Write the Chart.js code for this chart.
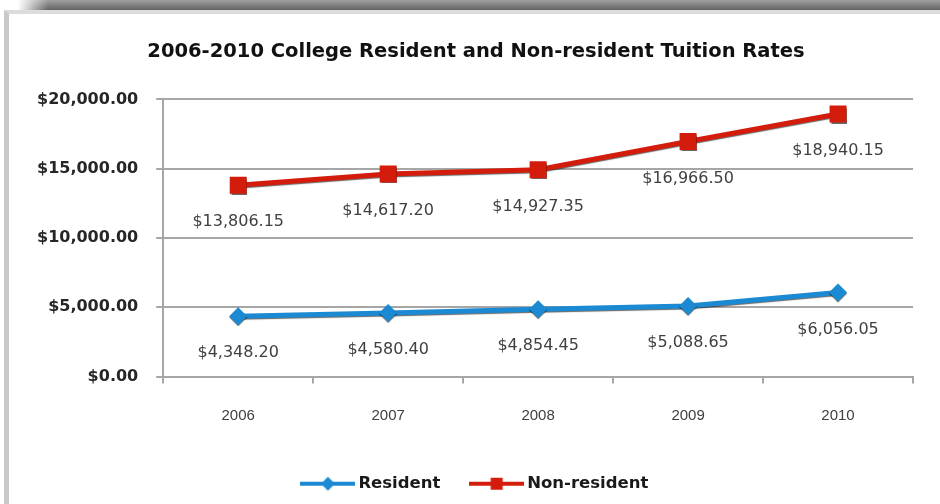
<!DOCTYPE html>
<html>
<head>
<meta charset="utf-8">
<script src="https://cdn.jsdelivr.net/npm/chart.js@4"></script>
<style>
    html, body { margin: 0; padding: 0; background: #fff; }
    #wrap { position: relative; width: 940px; height: 504px; overflow: hidden; background: #fff; }
    #topbar { position: absolute; left: 18px; top: 0; right: 0; height: 11px;
        background: linear-gradient(to bottom, #a0a0a0, #5c5c5c);
        -webkit-mask-image: linear-gradient(to right, transparent 0, #000 30px); }
    #frame { position: absolute; left: 4px; top: 10px; right: 0; bottom: 0;
        border-left: 5px solid #c9c9c9; border-top: 4px solid #dcdcdc; }
    #chart-box { position: absolute; left: 0; top: 0; width: 940px; height: 504px; }
</style>
</head>
<body>
<div id="wrap">
    <div id="topbar"></div>
    <div id="frame"></div>
    <div id="chart-box"><canvas id="tuition-graph" width="940" height="504"></canvas></div>
</div>
<script>
(function() {
    const years = ['2006', '2007', '2008', '2009', '2010'];
    const residentRates = [4348.20, 4580.40, 4854.45, 5088.65, 6056.05];
    const nonResidentRates = [13806.15, 14617.20, 14927.35, 16966.50, 18940.15];
    const yTicks = [0, 5000, 10000, 15000, 20000];

    const blue = '#1c8ad2';
    const red = '#d41c0c';

    function money(v) {
        return '$' + v.toLocaleString('en-US', { minimumFractionDigits: 2, maximumFractionDigits: 2 });
    }

    // small legend symbol: line with marker in the middle
    function legendIcon(color, shape) {
        const c = document.createElement('canvas');
        c.width = 55;
        c.height = 18;
        const g = c.getContext('2d');
        g.strokeStyle = color;
        g.lineWidth = 4;
        g.beginPath();
        g.moveTo(0, 9);
        g.lineTo(55, 9);
        g.stroke();
        g.fillStyle = color;
        if (shape === 'diamond') {
            g.beginPath();
            g.moveTo(27.5, 2);
            g.lineTo(34.5, 9);
            g.lineTo(27.5, 16);
            g.lineTo(20.5, 9);
            g.closePath();
            g.fill();
        } else {
            g.fillRect(21.5, 3, 12, 12);
        }
        return c;
    }

    const valueLabels = {
        id: 'valueLabels',
        afterDatasetsDraw(chart) {
            const ctx = chart.ctx;
            ctx.save();
            ctx.font = '16px "DejaVu Sans"';
            ctx.fillStyle = '#404040';
            ctx.textAlign = 'center';
            ctx.textBaseline = 'middle';
            chart.data.datasets.forEach((ds, i) => {
                chart.getDatasetMeta(i).data.forEach((pt, j) => {
                    ctx.fillText(money(ds.data[j]), pt.x, pt.y + 37);
                });
            });
            ctx.restore();
        }
    };

    const lineShadow = {
        id: 'lineShadow',
        beforeDatasetDraw(chart) {
            chart.ctx.save();
            chart.ctx.shadowColor = 'rgba(0,0,0,0.6)';
            chart.ctx.shadowOffsetY = 1;
            chart.ctx.shadowBlur = 1;
        },
        afterDatasetDraw(chart) {
            chart.ctx.restore();
        }
    };

    // title and legend sit a bit right of the plot centre in the original
    const blockShift = {
        id: 'blockShift',
        afterLayout(chart) {
            chart.legend.left += 11;
            chart.legend.right += 11;
            chart.legend.top -= 6;
            chart.legend.bottom -= 6;
            chart.titleBlock.left += 10;
            chart.titleBlock.right += 10;
        }
    };

    const ctx = document.getElementById('tuition-graph').getContext('2d');
    const myChart = new Chart(ctx, {
        type: 'line',
        data: {
            labels: years,
            datasets: [{
                label: 'Resident',
                data: residentRates,
                borderColor: blue,
                backgroundColor: blue,
                borderWidth: 5,
                pointStyle: 'rectRot',
                pointRadius: 9,
                pointBorderWidth: 0,
                tension: 0
            }, {
                label: 'Non-resident',
                data: nonResidentRates,
                borderColor: red,
                backgroundColor: red,
                borderWidth: 5,
                pointStyle: 'rect',
                pointRadius: 12,
                pointBorderWidth: 0,
                tension: 0
            }]
        },
        options: {
            responsive: false,
            animation: false,
            layout: {
                padding: { left: 19, right: 27, top: 0, bottom: -4 }
            },
            scales: {
                x: {
                    offset: true,
                    grid: {
                        offset: true,
                        drawOnChartArea: false,
                        tickLength: 7,
                        color: '#a6a6a6',
                        lineWidth: 2
                    },
                    border: { color: '#a6a6a6', width: 2 },
                    ticks: {
                        padding: 23,
                        color: '#404040',
                        font: { family: '"Liberation Sans"', size: 15 }
                    }
                },
                y: {
                    min: 0,
                    max: 20000,
                    afterBuildTicks(scale) {
                        scale.ticks = yTicks.map(v => ({ value: v }));
                    },
                    grid: {
                        tickLength: 7,
                        color: '#a6a6a6',
                        lineWidth: 2
                    },
                    border: { color: '#a6a6a6', width: 2 },
                    ticks: {
                        padding: 18,
                        color: '#262626',
                        font: { family: '"DejaVu Sans"', size: 16, weight: 'bold' },
                        callback: v => money(v)
                    }
                }
            },
            plugins: {
                title: {
                    display: true,
                    text: '2006-2010 College Resident and Non-resident Tuition Rates',
                    color: '#111',
                    font: { family: '"DejaVu Sans"', size: 19.5, weight: 'bold' },
                    padding: { top: 40, bottom: 36 }
                },
                legend: {
                    position: 'bottom',
                    labels: {
                        usePointStyle: true,
                        pointStyleWidth: 44.5,
                        boxHeight: 18,
                        padding: 34,
                        color: '#1a1a1a',
                        font: { family: '"DejaVu Sans"', size: 16.5, weight: 'bold' },
                        generateLabels(chart) {
                            return chart.data.datasets.map((ds, i) => ({
                                text: ds.label,
                                pointStyle: legendIcon(ds.borderColor, i === 0 ? 'diamond' : 'square'),
                                fillStyle: ds.borderColor,
                                strokeStyle: ds.borderColor,
                                lineWidth: 0,
                                fontColor: '#1a1a1a',
                                datasetIndex: i
                            }));
                        }
                    }
                },
                tooltip: { enabled: false }
            }
        },
        plugins: [lineShadow, valueLabels, blockShift]
    });
})();
</script>
</body>
</html>
